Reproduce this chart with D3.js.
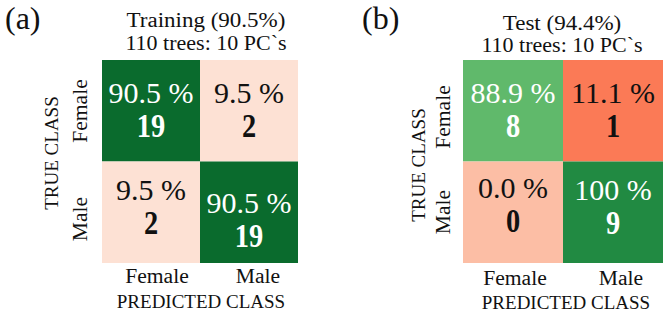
<!DOCTYPE html>
<html><head><meta charset="utf-8">
<script src="https://cdn.jsdelivr.net/npm/d3@7"></script>
<style>html,body{margin:0;padding:0;background:#fff;}svg{display:block;font-family:"Liberation Serif","Times New Roman",serif;}</style>
</head><body>
<svg id="c" width="664" height="315"></svg>
<script>
const classes = ["Female", "Male"];
const trainCounts = [[19, 2], [2, 19]];
const trainPct = [[90.5, 9.5], [9.5, 90.5]];
const testCounts = [[8, 1], [0, 9]];
const testPct = [[88.9, 11.1], [0.0, 100]];
const panelTags = ["(a)", "(b)"];
const panelTitles = ["Training (90.5%)", "Test (94.4%)"];
const subTitle = "110 trees: 10 PC`s";

const svg = d3.select("#c");
const stretch = (sel, k) => sel.each(function(){ const w = this.getComputedTextLength(); d3.select(this).attr("textLength", w*k).attr("lengthAdjust","spacingAndGlyphs"); });
const fmt = v => v === 100 ? "100 %" : v.toFixed(1) + " %";

const panels = [
  {counts: trainCounts, pct: trainPct, x0: 102, x1: 298, colors: [["#0a6b2d","#fde1d4"],["#fde1d4","#0a6b2d"]],
   tag: {x: 5, y: 29}, title: {x: 206, y1: 27, y2: 50}, trueX: 58, trueY: 153, rowLblX: 87, rowLblY: [111, 219],
   colLblDX: [6, 9], colLblY: 283, predY: 308, predX: 201, textDY: [[0,0],[0,13]]},
  {counts: testCounts, pct: testPct, x0: 463, x1: 663, colors: [["#60b96b","#fb7a56"],["#fcbea5","#218a42"]],
   tag: {x: 362, y: 29}, title: {x: 562, y1: 30, y2: 52}, trueX: 425, trueY: 165, rowLblX: 450, rowLblY: [117, 212],
   colLblDX: [2, 8], colLblY: 285, predY: 309, predX: 566, textDY: [[0,0],[-2,0]]}
];

panels.forEach((p, pi) => {
  const g = svg.append("g");
  const x = d3.scaleBand().domain(classes).range([p.x0, p.x1]);
  const y = d3.scaleBand().domain(classes).range([60, 263]);
  classes.forEach((tr, i) => classes.forEach((pr, j) => {
    g.append("rect").attr("x", x(pr)).attr("y", y(tr)).attr("width", x.bandwidth()).attr("height", y.bandwidth())
      .attr("fill", p.colors[i][j]);
    const cx = x(pr) + x.bandwidth()/2;
    const col = p.pct[i][j] >= 50 ? "#fff" : "#111";
    const base = y(tr) + (i === 0 ? 43 : 38) + p.textDY[i][j];
    g.append("text").attr("x", cx).attr("y", base).attr("text-anchor","middle")
      .attr("font-size", 30).attr("fill", col).text(fmt(p.pct[i][j]));
    g.append("text").attr("x", cx).attr("y", base + 34).attr("text-anchor","middle")
      .attr("font-size", 33).attr("font-weight","bold").attr("fill", col).text(p.counts[i][j]).call(stretch, 0.86);
  }));
  g.append("text").attr("x", p.tag.x).attr("y", p.tag.y).attr("font-size", 32).attr("fill","#111").text(panelTags[pi]);
  g.append("text").attr("x", p.title.x).attr("y", p.title.y1).attr("text-anchor","middle").attr("font-size",20).attr("fill","#111")
    .text(panelTitles[pi]).call(stretch, 1.15);
  g.append("text").attr("x", p.title.x).attr("y", p.title.y2).attr("text-anchor","middle").attr("font-size",20).attr("fill","#111")
    .text(subTitle).call(stretch, 1.1);
  classes.forEach((c, i) => {
    g.append("text").attr("transform", `translate(${p.rowLblX},${p.rowLblY[i]}) rotate(-90)`).attr("text-anchor","middle")
      .attr("font-size", 20).attr("fill","#111").text(c).call(stretch, 1.08);
  });
  g.append("text").attr("transform", `translate(${p.trueX},${p.trueY}) rotate(-90)`).attr("text-anchor","middle")
    .attr("font-size", 19).attr("fill","#111").text("TRUE CLASS");
  classes.forEach((c, j) => {
    g.append("text").attr("x", x(c) + x.bandwidth()/2 + p.colLblDX[j]).attr("y", p.colLblY).attr("text-anchor","middle")
      .attr("font-size", 20).attr("fill","#111").text(c).call(stretch, 1.08);
  });
  g.append("text").attr("x", p.predX).attr("y", p.predY).attr("text-anchor","middle")
    .attr("font-size", 19).attr("fill","#111").text("PREDICTED CLASS");
});
</script>
</body></html>
